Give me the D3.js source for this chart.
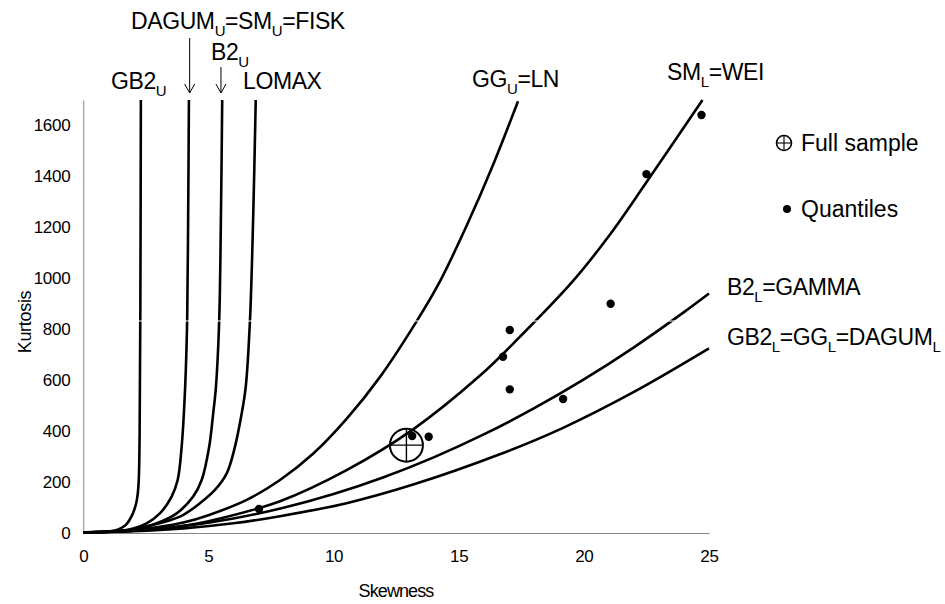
<!DOCTYPE html>
<html>
<head>
<meta charset="utf-8">
<script src="https://cdn.jsdelivr.net/npm/d3@7"></script>
<style>
  body { margin: 0; background: #fff; }
  svg { display: block; font-family: "Liberation Sans", Arial, sans-serif; }
</style>
</head>
<body>
<svg id="chart" width="945" height="604"></svg>
<script>
// ---- Data ----
const xTicks = [0, 5, 10, 15, 20, 25];
const yTicks = [0, 200, 400, 600, 800, 1000, 1200, 1400, 1600];

// theoretical curves: skewness / kurtosis pairs
const gb2U_s   = [0, 0.5, 1, 1.4, 1.7, 1.95, 2.12, 2.2, 2.25, 2.28, 2.3];
const gb2U_k   = [3, 3.6, 6, 14, 32, 70, 120, 180, 380, 900, 1700];

const dagumU_s = [0, 1, 1.5, 2, 2.53, 3.06, 3.53, 3.77, 3.93, 4.07, 4.15, 4.19, 4.22];
const dagumU_k = [3, 5, 9, 18, 38, 77, 143, 208, 339, 574, 836, 1250, 1700];

const b2U_s    = [0, 1, 1.5, 2, 2.93, 3.73, 4.39, 4.73, 5.03, 5.19, 5.30, 5.43, 5.50, 5.55];
const b2U_k    = [3, 5, 8.5, 14, 38, 77, 143, 208, 339, 470, 574, 836, 1250, 1700];

const lomax_s  = [0, 1, 1.5, 2, 2.53, 3.86, 4.66, 5.26, 5.73, 6.06, 6.33, 6.49, 6.66, 6.79, 6.89];
const lomax_k  = [3, 5, 8, 13, 25, 64, 117, 169, 234, 339, 470, 574, 836, 1250, 1700];

const ln_s     = [0, 1, 2, 3, 4, 5, 6.53, 7.86, 9.19, 10.52, 11.85, 13.31, 14.25, 15.31, 16.37, 17.37];
const ln_k     = [3, 4.8, 10.7, 23, 41, 70, 130, 208, 312, 448, 612, 830, 988, 1205, 1445, 1695];

const wei_s    = [0, 1, 2, 3, 4, 5, 7.86, 10.52, 13.18, 15.84, 17.44, 19.57, 21.03, 22.5, 24.74];
const wei_k    = [3, 4.4, 9, 14.5, 28, 46, 125, 247, 407, 617, 770, 990, 1170, 1377, 1700];

const gamma_s  = [0, 2, 4, 6, 8, 10, 12, 14, 16, 18, 20, 22, 24, 25];
const gamma_k  = [3, 9, 27, 57, 99, 153, 219, 297, 387, 489, 603, 729, 867, 940];

const gb2L_s   = [0, 2, 4, 6, 7.86, 10.52, 13.18, 16.64, 19.17, 22, 25];
const gb2L_k   = [3, 7, 18, 38, 66, 117, 190, 309, 413, 554, 725];

// observed points
const quantSkew = [24.70, 22.50, 21.07, 17.04, 16.77, 17.04, 19.17, 13.14, 13.80, 7.02];
const quantKurt = [1641, 1409, 900, 797, 692, 564, 526, 381, 378, 94];
const fullSkew = 12.91, fullKurt = 345;

// ---- Chart ----
const svg = d3.select("#chart");
const x = d3.scaleLinear().domain([0, 25]).range([83.3, 709]);
const y = d3.scaleLinear().domain([0, 1700]).range([533, 100]);
const axisColor = "#868686";

// axes
const gx = svg.append("g").attr("transform", `translate(0,${y(0)})`)
  .call(d3.axisBottom(x).tickValues(xTicks).tickFormat(d3.format("d"))
    .tickSize(0).tickSizeOuter(0).tickPadding(17));
const gy = svg.append("g").attr("transform", `translate(${x(0)},0)`)
  .call(d3.axisLeft(y).tickValues(yTicks).tickFormat(d3.format("d"))
    .tickSize(0).tickSizeOuter(0).tickPadding(13));
[gx, gy].forEach(g => {
  g.select(".domain").attr("stroke", axisColor).attr("stroke-width", 1);
  g.selectAll("text").attr("font-size", 17).attr("fill", "#000").attr("letter-spacing", "-0.3px")
    .attr("font-family", "'Liberation Sans', Arial, sans-serif");
});

// axis titles
svg.append("text").attr("x", 396).attr("y", 597).attr("text-anchor", "middle")
  .attr("font-size", 18).attr("letter-spacing", "-0.9px").text("Skewness");
svg.append("text").attr("transform", "translate(31,322) rotate(-90)")
  .attr("text-anchor", "middle").attr("font-size", 18).attr("letter-spacing", "-0.3px").text("Kurtosis");

// curves
const curves = [
  [gb2U_s, gb2U_k], [dagumU_s, dagumU_k], [b2U_s, b2U_k], [lomax_s, lomax_k],
  [ln_s, ln_k], [wei_s, wei_k], [gamma_s, gamma_k], [gb2L_s, gb2L_k]
];
const line = d3.line().x(d => x(d[0])).y(d => y(d[1])).curve(d3.curveCatmullRom.alpha(0.5));
svg.append("g").selectAll("path").data(curves).join("path")
  .attr("d", c => line(c[0].map((s, i) => [s, c[1][i]])))
  .attr("fill", "none").attr("stroke", "#000").attr("stroke-width", 2.6)
  .attr("stroke-linejoin", "round");

// thin white artefact line seen across the plot
svg.append("line").attr("x1", x(0) + 2).attr("x2", 716).attr("y1", 321).attr("y2", 321)
  .attr("stroke", "#fff").attr("stroke-width", 1);

// quantile points
svg.append("g").selectAll("circle").data(quantSkew).join("circle")
  .attr("cx", (d) => x(d)).attr("cy", (d, i) => y(quantKurt[i])).attr("r", 4.2).attr("fill", "#000");

// full sample marker
function fullMarker(g, cx, cy, r, sw) {
  g.append("circle").attr("cx", cx).attr("cy", cy).attr("r", r)
    .attr("fill", "none").attr("stroke", "#000").attr("stroke-width", sw);
  g.append("line").attr("x1", cx - r).attr("x2", cx + r).attr("y1", cy).attr("y2", cy)
    .attr("stroke", "#000").attr("stroke-width", sw * 0.7);
  g.append("line").attr("x1", cx).attr("x2", cx).attr("y1", cy - r).attr("y2", cy + r)
    .attr("stroke", "#000").attr("stroke-width", sw * 0.7);
}
fullMarker(svg.append("g"), x(fullSkew), y(fullKurt), 16.5, 2);

// rich labels with subscripts
function richLabel(px, py, parts, size) {
  const t = svg.append("text").attr("x", px).attr("y", py).attr("font-size", size)
    .attr("letter-spacing", "-0.4px");
  let shifted = false;
  parts.forEach(p => {
    const sub = p[1] === "sub";
    const ts = t.append("tspan").text(p[0]);
    if (sub) {
      ts.attr("font-size", 15);
      if (!shifted) { ts.attr("dy", 7); shifted = true; }
    } else if (shifted) { ts.attr("dy", -7); shifted = false; }
  });
  return t;
}
const LS = 23;
richLabel(131, 29, [["DAGUM"], ["U", "sub"], ["=SM"], ["U", "sub"], ["=FISK"]], LS);
richLabel(211, 60, [["B2"], ["U", "sub"]], LS);
richLabel(111, 89, [["GB2"], ["U", "sub"]], LS);
richLabel(243, 89, [["LOMAX"]], LS);
richLabel(472, 87, [["GG"], ["U", "sub"], ["=LN"]], LS);
richLabel(667, 80, [["SM"], ["L", "sub"], ["=WEI"]], LS);
richLabel(727, 295, [["B2"], ["L", "sub"], ["=GAMMA"]], LS);
richLabel(727, 345, [["GB2"], ["L", "sub"], ["=GG"], ["L", "sub"], ["=DAGUM"], ["L", "sub"]], LS);

// arrows
function arrow(ax, y1, y2) {
  svg.append("line").attr("x1", ax).attr("x2", ax).attr("y1", y1).attr("y2", y2)
    .attr("stroke", "#000").attr("stroke-width", 1);
  svg.append("path").attr("d", `M${ax - 5},${y2 - 9}L${ax},${y2}L${ax + 5},${y2 - 9}`)
    .attr("fill", "none").attr("stroke", "#000").attr("stroke-width", 1);
}
arrow(x(4.25), 38, 93);
arrow(x(5.5), 67, 93);

// legend
fullMarker(svg.append("g"), 784, 143, 7.5, 1.6);
svg.append("text").attr("x", 801).attr("y", 151).attr("font-size", 23).text("Full sample");
svg.append("circle").attr("cx", 787).attr("cy", 209).attr("r", 4).attr("fill", "#000");
svg.append("text").attr("x", 801).attr("y", 217).attr("font-size", 23).text("Quantiles");
</script>
</body>
</html>
